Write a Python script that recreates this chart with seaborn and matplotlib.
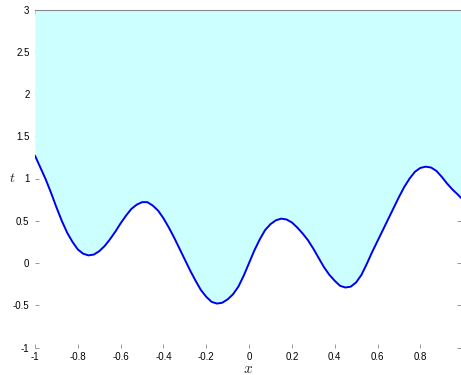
import numpy as np
import pandas as pd
import matplotlib
matplotlib.use("Agg")
import matplotlib.pyplot as plt
import seaborn as sns

# values
x_vals = [-1.000, -0.975, -0.950, -0.925, -0.900, -0.875, -0.850, -0.825, -0.800, -0.775,
          -0.750, -0.725, -0.700, -0.675, -0.650, -0.625, -0.600, -0.575, -0.550, -0.525,
          -0.500, -0.475, -0.450, -0.425, -0.400, -0.375, -0.350, -0.325, -0.300, -0.275,
          -0.250, -0.225, -0.200, -0.175, -0.150, -0.125, -0.100, -0.075, -0.050, -0.025,
          0.000, 0.025, 0.050, 0.075, 0.100, 0.125, 0.150, 0.175, 0.200, 0.225,
          0.250, 0.275, 0.300, 0.325, 0.350, 0.375, 0.400, 0.425, 0.450, 0.475,
          0.500, 0.525, 0.550, 0.575, 0.600, 0.625, 0.650, 0.675, 0.700, 0.725,
          0.750, 0.775, 0.800, 0.825, 0.850, 0.875, 0.900, 0.925, 0.950, 0.975, 0.990]
t_vals = [1.27, 1.13, 0.99, 0.83, 0.66, 0.50, 0.36, 0.25, 0.16, 0.11,
          0.09, 0.10, 0.14, 0.20, 0.28, 0.37, 0.47, 0.56, 0.64, 0.69,
          0.72, 0.72, 0.68, 0.62, 0.53, 0.42, 0.30, 0.17, 0.04, -0.09,
          -0.21, -0.32, -0.40, -0.46, -0.48, -0.47, -0.43, -0.37, -0.28, -0.15,
          0.00, 0.15, 0.28, 0.39, 0.46, 0.505, 0.525, 0.515, 0.48, 0.42,
          0.35, 0.27, 0.17, 0.06, -0.05, -0.14, -0.21, -0.27, -0.29, -0.28,
          -0.23, -0.14, -0.01, 0.13, 0.26, 0.39, 0.52, 0.65, 0.78, 0.90,
          1.00, 1.08, 1.125, 1.14, 1.13, 1.09, 1.02, 0.94, 0.87, 0.81, 0.77]
x_ticks = [-1, -0.8, -0.6, -0.4, -0.2, 0, 0.2, 0.4, 0.6, 0.8]
y_ticks = [-1, -0.5, 0, 0.5, 1, 1.5, 2, 2.5, 3]
t_top = 3

df = pd.DataFrame({"x": x_vals, "t": t_vals})

sns.set_style("white")
plt.rcParams["font.family"] = ["Liberation Sans", "DejaVu Sans"]
plt.rcParams["mathtext.fontset"] = "cm"

fig = plt.figure(figsize=(4.61, 3.75), dpi=100)
ax = fig.add_axes([35 / 461, 1 - 347.5 / 375, 1 - 35 / 461, 338 / 375])

ax.fill_between(df["x"], df["t"], t_top, color="#ccffff", linewidth=0)
sns.lineplot(data=df, x="x", y="t", ax=ax, color="#0000ee", linewidth=1.4)

ax.set_xlim(-1, 0.99)
ax.set_ylim(-1, 3)
ax.set_xticks(x_ticks)
ax.set_xticklabels([f"{v:g}" for v in x_ticks])
ax.set_yticks(y_ticks)
ax.set_yticklabels([f"{v:g}" for v in y_ticks])

for side in ["left", "right", "bottom"]:
    ax.spines[side].set_visible(False)
ax.spines["top"].set_color("#888888")
ax.spines["top"].set_linewidth(0.8)

ax.tick_params(direction="in", length=3, width=0.6, color="#888888",
               labelsize=7, labelcolor="black",
               top=True, right=True, left=True, bottom=True)
ax.tick_params(axis="x", pad=3)
ax.tick_params(axis="y", pad=4)

ax.set_xlabel("$x$", fontsize=11, labelpad=0)
ax.set_ylabel("$t$", fontsize=10, rotation=0, ha="center", va="center")
ax.yaxis.set_label_coords(-0.054, 0.5)

fig.savefig("out.png", dpi=100)
